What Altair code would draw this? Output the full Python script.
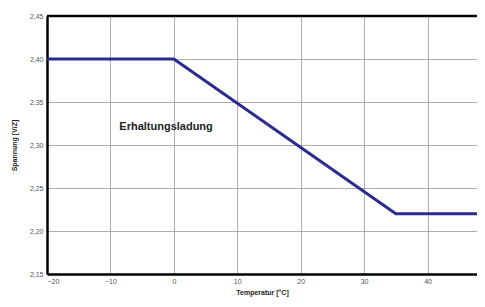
import altair as alt
import pandas as pd

temps = [-20, 0, 35, 50]
volts = [2.40, 2.40, 2.22, 2.22]
x_ticks = [-20, -10, 0, 10, 20, 30, 40]
y_ticks = [2.15, 2.20, 2.25, 2.30, 2.35, 2.40, 2.45]
label_text = ["Erhaltungsladung"]
label_x = [-8.6]
label_y = [2.321]

line_df = pd.DataFrame({"t": temps, "v": volts})
txt_df = pd.DataFrame({"t": label_x, "v": label_y, "s": label_text})
top_df = pd.DataFrame({"v": [2.45]})

xscale = alt.Scale(domain=[-20, 47.8], nice=False, zero=False)
yscale = alt.Scale(domain=[2.15, 2.45], nice=False, zero=False)

xaxis = alt.Axis(values=x_ticks, title="Temperatur [°C]", titleFontWeight="bold",
                 titleFontSize=7, titleFont="Liberation Sans", titleColor="#222",
                 labelFontSize=7, labelFont="Liberation Sans", labelColor="#555",
                 grid=True, gridColor="#999", gridWidth=0.8,
                 domain=True, domainColor="black", domainWidth=2.5,
                 ticks=False, labelPadding=3, titlePadding=4)
yaxis = alt.Axis(values=y_ticks, title="Spannung [V/Z]", titleFontWeight="bold",
                 titleFontSize=7, titleFont="Liberation Sans", titleColor="#222",
                 labelFontSize=7, labelFont="Liberation Sans", labelColor="#555",
                 labelExpr="replace(format(datum.value, '.2f'), '.', ',')",
                 grid=True, gridColor="#999", gridWidth=0.8,
                 domain=True, domainColor="black", domainWidth=2.5,
                 ticks=False, labelPadding=4, titlePadding=12)

line = alt.Chart(line_df).mark_line(color="#2b2b8f", strokeWidth=3, clip=True).encode(
    x=alt.X("t:Q", scale=xscale, axis=xaxis),
    y=alt.Y("v:Q", scale=yscale, axis=yaxis),
)

top = alt.Chart(top_df).mark_rule(color="black", strokeWidth=2.5).encode(
    y=alt.Y("v:Q", scale=yscale)
)

txt = alt.Chart(txt_df).mark_text(align="left", baseline="middle", fontSize=11,
                                  fontWeight="bold", font="Liberation Sans",
                                  color="#222").encode(
    x=alt.X("t:Q", scale=xscale),
    y=alt.Y("v:Q", scale=yscale),
    text="s:N",
)

chart = alt.layer(line, top, txt).properties(
    width=430, height=258,
    autosize=alt.AutoSizeParams(type="none"),
    padding={"left": 39, "top": 8, "right": 0, "bottom": 25},
).configure_view(stroke=None).configure(background="white")

chart.save("out.html", embed_options={"renderer": "svg", "actions": False})
